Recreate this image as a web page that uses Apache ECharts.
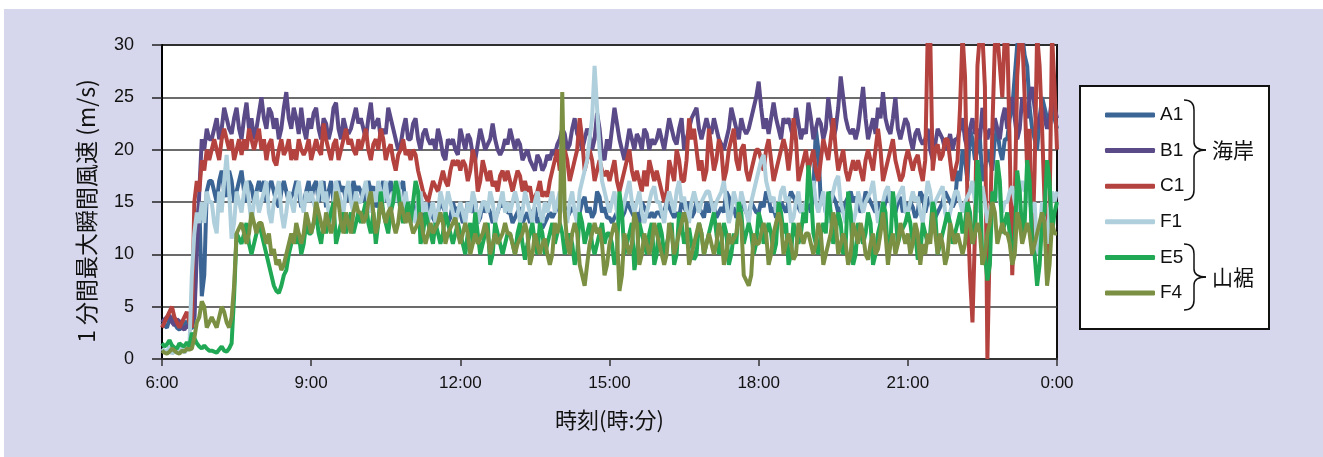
<!DOCTYPE html>
<html>
<head>
<meta charset="utf-8">
<script src="https://cdn.jsdelivr.net/npm/echarts@6/dist/echarts.min.js"></script>
<style>
  html, body { margin: 0; padding: 0; background: #ffffff; }
  #chart { width: 1323px; height: 457px; }
</style>
</head>
<body>
<div id="chart"></div>
<script>
// 1-minute peak gust wind speed (m/s), one reading every 3 minutes.
// Each row is one hour (6:00, 7:00, ... 23:00); the last row is 0:00.
const STEP_MIN = 3;
const ROW_MIN = 60;
const timeLabels = ['6:00', '9:00', '12:00', '15:00', '18:00', '21:00', '0:00'];
const seriesNames = ['A1', 'B1', 'C1', 'F1', 'E5', 'F4'];
const seriesColors = ['#3b6595', '#5b4a88', '#b4423e', '#aecfdb', '#20a854', '#7b9043'];

const A1 = [
  [3.5,3.2,3,3.8,4,3.4,3,2.8,3.1,3.3,3.6,3,2.9,4,13,15,6,8,16,17],
  [17,16,15,17,18,16,15.5,18,17,15,16,17,18,16,15,17,16.5,15,16,17],
  [16,17,15,16.5,17,16,15,14.5,16,17,16,15,15.5,16,17,16,14.5,15,16,17],
  [15,16.5,17,15,16,17,14.5,16,17,15,15.5,17,16,16.5,15,16,15,17,16,16.5],
  [16,15,15.5,17,16,16.5,14.5,15,16,17,15,16,17,15.5,15,16,16.5,17,14.5,15],
  [14,15,13.5,14.5,15,14,13,15,14,13.5,13,14,15,14.5,14,13,13.5,15,14,14.5],
  [14,13,13.5,15,14.5,14,15,13,13.5,15,14,14.5,14,13,13.5,14,15,14.5,15,14],
  [14,13,13.5,14,14.5,13,13.5,14,13,14,14.5,13,13.5,12.5,13,13.5,14,13.5,14,15],
  [14,15,14.5,13.5,14,14.5,14,13.5,14,15,15.5,14,14.5,13.5,14,16,15.5,14,14.5,13.5],
  [13.5,13,13.5,14,14.5,13.5,14,15,14.5,14,13.5,14,13,15,14.5,14,13.5,14,13.5,14],
  [14,13.5,14,15,14.5,14,13.5,14,13.5,15,14.5,14,15,13.5,14,15,14.5,14,13.5,15],
  [14,15,14.5,13.5,14,14.5,14,16,15.5,14,14.5,13.5,14,15,14.5,14,13.5,15,14.5,14],
  [14,15,14.5,16,15.5,14,14.5,13.5,14,15,14.5,14,15,16,15.5,15,14.5,14,14.5,15],
  [15,14,16,22,20,15,15.5,14,14.5,16,15.5,15,14,14.5,14,15,15.5,16,15,15.5],
  [15,14,14.5,16,15.5,15,14.5,14,15,13.5,14,15,15.5,16,14.5,14,15,15.5,14,15],
  [14,15,14.5,13.5,14,16,15.5,14,15,15.5,14,13.5,14,14.5,15,16,15.5,15,14.5,15],
  [18,17,20,19,17,22,21,19,20,21,17,18,20,19,18,21,22,20,19,21],
  [21,23,24,27,30,31,31,29,28,24,22,21,20,23,25,24,23,22,24,23],
  [22]
];
const B1 = [
  [3.5,3.8,4,4.2,3.5,3.2,3.8,3.6,3,2.8,3.2,3,3.5,4,10,16,21,20,22,21],
  [21,22,23,21,22,24,23,22,21.5,23,24,22,21,23,24.5,22,23,21,22,23.5],
  [25,23,22,24,23.5,22,23,21,22,24,25.5,23,22,24,23,21.5,24,22,21,23],
  [22,23.5,24,22,21,23,22.5,21,22,24,24.5,22,21,23,22,21.5,22,23,24,22.5],
  [23,22,21,23,24.5,22,22.5,23,21,22,21.5,24,23,22,21,20,20.5,22,23,21],
  [21,22.5,23,21,20,21.5,22,21,20.5,21,20,22,21,19.5,19,21,20.5,21,20,19.5],
  [22,21,20,21.5,21,19.5,19,20.5,22,21,20,20.5,21,22.5,21,20,19.5,20,21,20.5],
  [22,21,20,21,20.5,19,19.5,20,19,18.5,18,19.5,19,18,18.5,19.5,19,20,19.5,20.5],
  [21,22,21.5,20,20.5,22,23,21.5,21,20,21,22,21.5,20,21,23.5,22,19.5,19,21],
  [20,22,24,22.5,21,20,19,20.5,22,21,20,21.5,21,20,22,21.5,20,21,20.5,21],
  [22,21,20,21.5,23,22,21,20.5,22,23,20,21,22,23,23.5,24,22,21,22,23],
  [22,21.5,23,22,21,20.5,20,21,22,24,23,22,21,23,22,21.5,22,23,24,25],
  [26.5,24,22,23,21.5,23,24.5,23,22,21,23,22.5,23,22,21,24,22.5,21,22,21.5],
  [24.5,23,21,22,23,22.5,21,22,25,23,21,22,24,27,25,23,22,21.5,22,21],
  [22,24,26,23,21,22,23,21.5,24,23,25.5,23,22,21.5,23,25,22,21,22,23],
  [22.5,21,20,21.5,22,21,20.5,21,22,20,19,20.5,22,21.5,21,20,20.5,21.5,20,21],
  [21,22,23,21,20,22,23,21.5,22,21,24,22,21,22,21.5,23,22,21,23,24],
  [22,24,25,23,21,22,25,24,23,25,26,24,22,23,24,23,22,23,25,24],
  [23]
];
const C1 = [
  [3,3.5,4,4.5,5,4,3.5,3,3.5,4,4.5,3.5,3,15,17,16,19,18,20,19],
  [20,21,20,19,21,22,21,20,21,19,20,21,19.5,21,20,22,21,20,21,22],
  [20,21,19,20.5,21,19,18.5,20,21,19.5,20,21,19,20,19,21,20,19.5,20,21],
  [19,20,21,20,19.5,22.5,21,20,19,20.5,21,19,20,21,22,20.5,21,20,19.5,21],
  [20,21,22,20,19,20.5,21,20,22,21,19,20,20.5,19,18,19.5,20,21,19.5,20],
  [19,20,19.5,18,17,16,15.5,15,16,17,16.5,16,17,18,17,16.5,18,19,18.5,19],
  [18,19,18.5,17,18,20,19,16,17,19,18,17,18,16.5,17,16,17.5,18,17,18],
  [17,16,17,18,17.5,16,17,16,16.5,15,15.5,16,17,15.5,16,15.5,17,18,19,20],
  [18,19,20,19,17,18,19,20,23,21,18,19,20,19,17,18,19,18,17.5,18],
  [17,18,19,17,16,17,18,19,20,18,17,18,17,16,18,16.5,19,18,17,18],
  [17,16,15,16,19,18,17,20,19,17,17,19,23,21,22,20,18,19,17,18],
  [22,20,18,19,21,20,17,18,20,21,22,19,18,20,20.5,18,17,18,19,20],
  [20,19,18,20,21,19,17,18,19,20,21,20,18,20,23,21,17,18,19,20],
  [18,19,20,18,17,19,21,20,19,21,23,20,18,19,20,18,17,18,19,18],
  [19,18,17,19,20,19,18,20,22,20,17,18,19,20,21,19,18,17,17.5,19],
  [20,19,18,19,19.5,18,17,19,31,31,18,20,20.5,19,19.5,21,21,19,17,18],
  [19,24,31,27,15,8,3.5,12,28,31,31,26,0,12,22,30,31,28,25,31],
  [31,20,8,15,27,31,31,25,18,22,10,18,31,28,22,15,7.5,14,31,26],
  [20]
];
const F1 = [
  [1,0.8,0.6,1.2,0.5,0.7,0.8,1,1,0.6,0.9,1,8,12,14,13,15,13,16,15],
  [15,13,12,16,14,17,19.5,16,11.5,13,16,15,14,16,17,15,13,15,16,14],
  [15,16,17,14,13,15,16,17,14,12.5,14,16,15,14,16,17,15,14,16,15],
  [16,15,14,16,17,15,16,14,13,15,17,16,15,14,16,17,15,14,16,15],
  [15,16,17,15,14,16,15,17,16,15,17,15,14,16,15,17,15,14,16,14],
  [15,14,13,15,16,14,15,13,14,15,13,14,16,15,14,16,15,14,13,14],
  [15,14,13,15,14,16,15,13,14,15,15,14,16,15,13,14,15,16,14,15],
  [14,15,16,15,13,14,16,15,14,13,15,16,14,13,15,14,15,16,14,15],
  [16,15,14,13,15,16,14,13,16,17,18,19,21,23,28,24,20,17,16,15],
  [14,15,16,14,13,14,15,16,17,15,14,15,16,14,13,14,15,16,16.5,15],
  [15,14,13,15,16,15,14,16,17,15,15.5,14,13,15,16,15,14,15,15.5,16],
  [16,15,14,15,15.5,16,17,15,13,14,16,15,14,16,15,14,13,15,16,17],
  [18,19,19.5,17,16,15,15.5,14,14.5,16,16.5,15,15.5,13,13.5,15,16,14,14.5,15],
  [15,16,17,15,14,15,16,14,13,15,16,17,17.5,15,14,13,15,14,13,14],
  [16,15,14,15,15.5,16,17,15,13,14,15,16,16.5,15,14,15,15.5,16,16.5,14],
  [14,15,16,15,15.5,14,13,15,17,16,14,15,15.5,16,16.5,14,13,14,15,16],
  [16,15,14,15,15.5,16,17,15,14,16,16.5,15,13,14,15,16,16.5,15,14,15],
  [15,16,16.5,15,14,16,17,16,16.5,15,14,15,10,12,15,13,11,14,16,15],
  [16]
];
const E5 = [
  [1.5,1.2,1.4,1.8,1.3,1.1,1,1.5,1.3,1.2,1.6,1.2,2.5,2,1.5,1.2,1,1.3,1,0.8],
  [0.8,0.7,0.6,0.9,1.2,0.8,0.7,1,1.5,6,12,11.5,11,12,13,11,10,11,12,13],
  [12,11,10,9,8,7,6.5,6.3,7,8,8.5,10,11,12,11,12,10,11,13,12],
  [12,13,14,12,11,13,12,13,14,15,11,12,13,14,12,13,14,12,13,14],
  [13,14,15,13,12,14,11,13,16,14,13,12,14,15,17,16,14,13,14,15],
  [13,15,17,16,11,12,14,13,12,11,13,12,11,12,14,13,12,11,12,13],
  [12,11,10,12,13,11,14,12,10,11,12,13,9,10,13,12,11,10,11,12],
  [12,11,10,12,13,11,9.5,11,12,13,11,10,13,12,10,11,12,13,11,12],
  [13,12,10,11,12,11,9,10,14,13,11,12,13,11,10,11,12,13,11,12],
  [12,11,9,10,16,14,10,11,12,13,8.5,10,13,12,11,10,12,13,9,10],
  [13,12,10,11,12,13,9,10,14,13,11,12,12.5,11,9.5,10,13,12,10,11],
  [12,13,14,12,10,11,13,12,9,10,12,11,15,14,11,12,13,12,10,11],
  [14,13,11,12,13,12,10,11,15,14,12,13,9,10,13,12,11,12,14,13],
  [18.5,16,12,11,10,12,13,12,16,14,11,12,14,13,10,11,16,14,9,10],
  [13,12,11,12,14,13,9,10,12,13,15,14,10,11,16,14,11,12,12.5,13],
  [14,13,11,12,9.5,10,13,12,11,12,15,14,10,11,12,13,14,13,11,12],
  [13,14,12,13,15,14,11,12,19,17,9,10,7.5,9,16,15,19,17,12,13],
  [14,12,10,11,18,16,12,13,19,17,11,10,7,9,13,14,19,17,12,14],
  [15]
];
const F4 = [
  [0.8,0.6,0.5,0.7,1,0.8,0.6,0.5,0.8,0.7,1,0.9,1,2,3.5,4,5.5,5,3,3.5],
  [4,3.5,3,4,5,4.5,3.5,3,4,7,12,12.5,13,12,11,12,14,13,12,13],
  [13,12,11,12,10,10.5,9,9.5,8.5,9,10,11,12,11,13,12,11,12,14,13],
  [12,13,15,14,13,12,14,13,12,13,16,15,13,12,14,13,12,14,15,14],
  [14,13,13.5,15,16,14,12,13,15,14,13,14,14.5,13,12,13,15,14,13,14],
  [13,12,12.5,13,14,12,11,12,13,12,12.5,13,14,13,11,12,12.5,13,13.5,12],
  [11,12,13,12,10,11,12,11,11.5,12,13,12,10,11,12,11,11.5,12,13,12],
  [12,11,10,11,11.5,12,13,12,9,10,12,11,10,11,11.5,10,9,10,13,12],
  [13,25.5,14,11,10,12,13,12,9,8,7,9,11,12,13,12,12.5,11,8,9],
  [11,12,13,12,6.5,8,12,11,10,11,14,13,9,10,12,11,10,11,13,12],
  [11,10,9,10,13,12,10,11,12,13,14,13,9,10,11,12,13,12,10,11],
  [12,11,10,11,13,12,9,10,12,11,11.5,12,14,13,8,7.5,7,8,12,11],
  [11,12,13,12,9,10,12,13,14,13,10,11,12,11,9.5,10,13,12,11,12],
  [12,11,10,11,13,12,9,10,11,12,14,13,10,11,12,11,9,10,13,12],
  [11,13,12,10,9.5,11,12,10,10.5,12,14,12,9,11,12,10,11,13,12,11],
  [12,10,11,13,12,9,11,10,12,11,14,12,10,12,11,9,10,13,12,11],
  [12,11,10,11,14,13,11,12,13,12,9,10,12,13,15,14,11,12,13,12],
  [12,11,9,10,14,13,11,12,13,12,10,11,12,13,14,13,7,9,13,12],
  [12]
];
const seriesValues = [A1, B1, C1, F1, E5, F4];

// group labels with braces: coast stations and foothill stations
const groupLabels = ['海岸', '山裾'];

const LATIN = '"Liberation Sans", Arial, sans-serif';
const CJK = '"Noto Sans CJK JP", "Noto Sans", sans-serif';

// [minutes since 6:00, value] pairs from the hourly rows
function toPoints(rows) {
  const pts = [];
  rows.forEach((row, r) => row.forEach((v, k) => pts.push([r * ROW_MIN + k * STEP_MIN, v])));
  return pts;
}

// right curly brace built from quadratic curves and straight strokes
function braceParts(x0, top, bottom) {
  const mid = (top + bottom) / 2;
  const xm = x0 + 10, xt = x0 + 22;
  const style = { fill: null, stroke: '#111111', lineWidth: 1.5 };
  const q = (x1, y1, cx, cy, x2, y2) => ({
    type: 'bezierCurve', z: 11, silent: true, style: style,
    shape: { x1: x1, y1: y1, cpx1: cx, cpy1: cy, x2: x2, y2: y2 }
  });
  const l = (x1, y1, x2, y2) => ({
    type: 'line', z: 11, silent: true, style: style,
    shape: { x1: x1, y1: y1, x2: x2, y2: y2 }
  });
  return [
    q(x0, top, xm, top, xm, top + 10),
    l(xm, top + 10, xm, mid - 8),
    q(xm, mid - 8, xm, mid, xt, mid),
    q(xt, mid, xm, mid, xm, mid + 8),
    l(xm, mid + 8, xm, bottom - 10),
    q(xm, bottom - 10, xm, bottom, x0, bottom)
  ];
}

const chart = echarts.init(document.getElementById('chart'), null, { renderer: 'canvas' });

const option = {
  backgroundColor: '#d6d7ec',
  animation: false,
  grid: {
    left: 162, top: 45, right: 266, bottom: 98,
    show: true, backgroundColor: '#ffffff',
    borderColor: '#111111', borderWidth: 2
  },
  xAxis: {
    type: 'value', min: 0, max: 1080, interval: 180,
    axisLine: { show: true, onZero: false, lineStyle: { color: '#333333', width: 2 } },
    axisTick: { show: true, length: 7, lineStyle: { color: '#333333', width: 1.5 } },
    axisLabel: {
      color: '#111111', fontSize: 17, fontFamily: LATIN, margin: 16,
      formatter: v => timeLabels[Math.round(v / 180)]
    },
    splitLine: { show: false },
    name: '時刻(時:分)', nameLocation: 'middle', nameGap: 50,
    nameTextStyle: { color: '#111111', fontSize: 22, fontFamily: CJK }
  },
  yAxis: {
    type: 'value', min: 0, max: 30, interval: 5,
    axisLine: { show: true, lineStyle: { color: '#000000', width: 2 } },
    axisTick: { show: true, length: 10, lineStyle: { color: '#222222', width: 1.5 } },
    axisLabel: { color: '#111111', fontSize: 18, fontFamily: LATIN, margin: 28 },
    splitLine: { show: true, lineStyle: { color: '#3a3a3a', width: 1.6 } },
    name: '1 分間最大瞬間風速 (m/s)', nameLocation: 'middle', nameRotate: 90, nameGap: 64,
    nameTextStyle: { color: '#111111', fontSize: 23, fontFamily: CJK, padding: [0, 18, 0, 0] }
  },
  legend: {
    orient: 'vertical', left: 1100, top: 99,
    itemWidth: 50, itemHeight: 5, itemGap: 13.6, icon: 'roundRect',
    selectedMode: false, z: 10,
    textStyle: { color: '#111111', fontSize: 19, fontFamily: LATIN, lineHeight: 22 },
    data: seriesNames
  },
  graphic: [
    { type: 'rect', z: -10, silent: true, shape: { x: 0, y: 0, width: 1323, height: 9 }, style: { fill: '#ffffff' } },
    { type: 'rect', z: -10, silent: true, shape: { x: 0, y: 0, width: 4, height: 457 }, style: { fill: '#ffffff' } },
    { type: 'rect', z: 1, silent: true, shape: { x: 1080, y: 86, width: 189, height: 243 },
      style: { fill: '#ffffff', stroke: '#111111', lineWidth: 2 } }
  ].concat(braceParts(1184, 100, 200), braceParts(1184, 244, 310), [
    { type: 'text', z: 11, silent: true, x: 1212, y: 150,
      style: { text: groupLabels[0], fill: '#111111', font: '21px ' + CJK, verticalAlign: 'middle' } },
    { type: 'text', z: 11, silent: true, x: 1212, y: 277,
      style: { text: groupLabels[1], fill: '#111111', font: '21px ' + CJK, verticalAlign: 'middle' } }
  ]),
  series: seriesNames.map((name, k) => ({
    name: name,
    type: 'line',
    showSymbol: false,
    symbol: 'none',
    clip: true,
    color: seriesColors[k],
    itemStyle: { color: seriesColors[k] },
    lineStyle: { color: seriesColors[k], width: 4 },
    data: toPoints(seriesValues[k])
  }))
};

chart.setOption(option);
</script>
</body>
</html>
